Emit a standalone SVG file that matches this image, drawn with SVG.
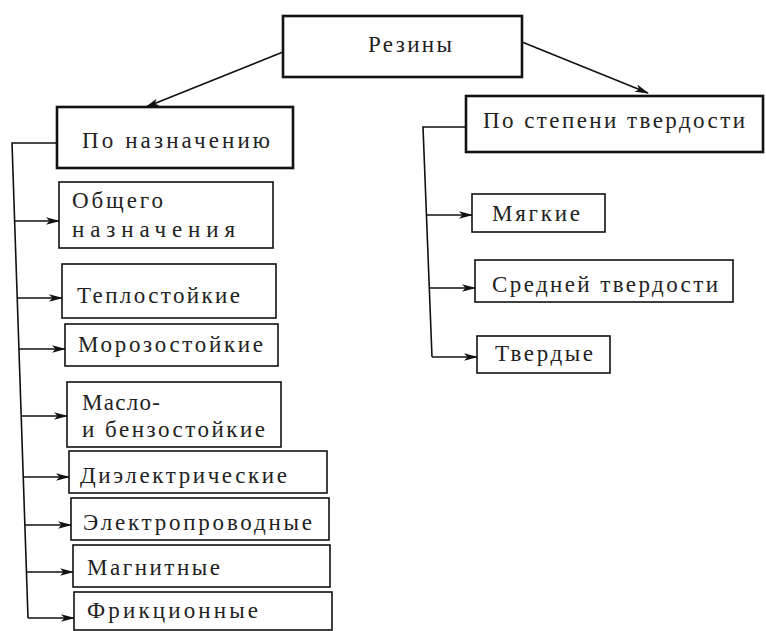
<svg xmlns="http://www.w3.org/2000/svg" width="766" height="631" viewBox="0 0 766 631" font-family="Liberation Serif, DejaVu Serif, serif">
<style>
.b{fill:#fff;stroke:#111;stroke-width:1.6}
.bb{fill:#fff;stroke:#111;stroke-width:2.6}
.t{font-size:23px;fill:#222}
.c{fill:none;stroke:#111;stroke-width:1.6}
</style>
<defs>
<marker id="a" markerWidth="14" markerHeight="10" refX="13" refY="5" orient="auto" markerUnits="userSpaceOnUse">
<path d="M0,1.2 L14,5 L0,8.8 L3.5,5 Z" fill="#111"/>
</marker>
</defs>
<g id="connectors">
<path class="c" d="M283,52 L146,107" marker-end="url(#a)"/>
<path class="c" d="M522,42 L648,93" marker-end="url(#a)"/>
<path class="c" d="M57,143 L12,143 L28,618"/>
<path class="c" d="M14.6,221 L59,221" marker-end="url(#a)"/>
<path class="c" d="M17.2,298 L62,298" marker-end="url(#a)"/>
<path class="c" d="M18.9,349 L65,349" marker-end="url(#a)"/>
<path class="c" d="M21.2,416 L67,416" marker-end="url(#a)"/>
<path class="c" d="M23.2,477 L69,477" marker-end="url(#a)"/>
<path class="c" d="M24.9,525 L71,525" marker-end="url(#a)"/>
<path class="c" d="M26.4,572 L73,572" marker-end="url(#a)"/>
<path class="c" d="M28,618 L74,618" marker-end="url(#a)"/>
<path class="c" d="M466,127 L423,127 L432,357"/>
<path class="c" d="M426.4,215 L472,215" marker-end="url(#a)"/>
<path class="c" d="M429.3,288 L475,288" marker-end="url(#a)"/>
<path class="c" d="M432,357 L477,357" marker-end="url(#a)"/>
</g>
<g id="n-rubber"><rect class="bb" x="283" y="16" width="239" height="61"/><text class="t" x="368" y="52" textLength="84" lengthAdjust="spacing">Резины</text></g>
<g id="n-purpose"><rect class="bb" x="57" y="107" width="236" height="61"/><text class="t" x="82" y="148" textLength="188" lengthAdjust="spacing">По назначению</text></g>
<g id="n-hard"><rect class="bb" x="466" y="96" width="297" height="56"/><text class="t" x="483" y="128" textLength="262" lengthAdjust="spacing">По степени твердости</text></g>
<g id="n-general"><rect class="b" x="59" y="182" width="214" height="66"/><text class="t" x="72" y="208" textLength="91" lengthAdjust="spacing">Общего</text><text class="t" x="72" y="237" textLength="163" lengthAdjust="spacing">назначения</text></g>
<g id="n-heat"><rect class="b" x="62" y="264" width="214" height="54"/><text class="t" x="77" y="303" textLength="163" lengthAdjust="spacing">Теплостойкие</text></g>
<g id="n-frost"><rect class="b" x="65" y="324" width="213" height="42"/><text class="t" x="78" y="352" textLength="185" lengthAdjust="spacing">Морозостойкие</text></g>
<g id="n-oil"><rect class="b" x="67" y="382" width="214" height="65"/><text class="t" x="82" y="410" textLength="78" lengthAdjust="spacing">Масло-</text><text class="t" x="82" y="437" textLength="183" lengthAdjust="spacing">и бензостойкие</text></g>
<g id="n-diel"><rect class="b" x="69" y="451" width="258" height="42"/><text class="t" x="80" y="483" textLength="207" lengthAdjust="spacing">Диэлектрические</text></g>
<g id="n-cond"><rect class="b" x="71" y="498" width="258" height="42"/><text class="t" x="83" y="530" textLength="229" lengthAdjust="spacing">Электропроводные</text></g>
<g id="n-magn"><rect class="b" x="73" y="545" width="257" height="42"/><text class="t" x="87" y="575" textLength="133" lengthAdjust="spacing">Магнитные</text></g>
<g id="n-fric"><rect class="b" x="74" y="592" width="258" height="38"/><text class="t" x="87" y="618" textLength="171" lengthAdjust="spacing">Фрикционные</text></g>
<g id="n-soft"><rect class="b" x="472" y="194" width="133" height="38"/><text class="t" x="492" y="221" textLength="88" lengthAdjust="spacing">Мягкие</text></g>
<g id="n-medium"><rect class="b" x="475" y="260" width="258" height="42"/><text class="t" x="492" y="292" textLength="226" lengthAdjust="spacing">Средней твердости</text></g>
<g id="n-solid"><rect class="b" x="477" y="336" width="133" height="37"/><text class="t" x="495" y="361" textLength="98" lengthAdjust="spacing">Твердые</text></g>
</svg>
